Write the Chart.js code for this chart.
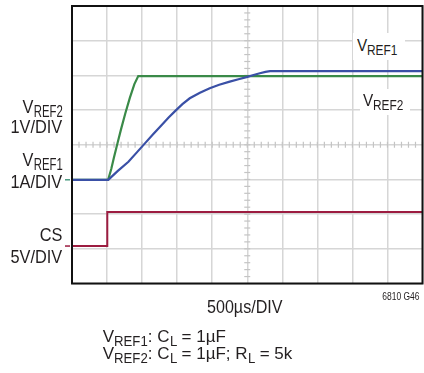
<!DOCTYPE html>
<html>
<head>
<meta charset="utf-8">
<script src="https://cdn.jsdelivr.net/npm/chart.js@4"></script>
<style>
  html, body { margin: 0; padding: 0; background: #fff; }
  #wrap { position: relative; width: 424px; height: 373px; overflow: hidden;
    font-family: "Liberation Sans Narrow", "Liberation Sans", Arial, sans-serif; color: #231f20; }
  #chart { position: absolute; left: 0; top: 0; }
  .lbl { position: absolute; white-space: nowrap; line-height: 20px; }
  .left { right: 362px; font-size: 19px; transform: scaleX(0.86); transform-origin: right center; }
  .left .s { font-size: 16.5px; }
  .rt { font-size: 17px; transform: scaleX(0.9); transform-origin: left center; }
  .rt .s { font-size: 15px; }
  .note { font-size: 17px; }
  .note .s { font-size: 15px; }
  .s { display: inline-block; vertical-align: -4px; line-height: 0; transform-origin: left center; }
  .wbox { position: absolute; background: #fff; }
</style>
</head>
<body>
<div id="wrap">
  <canvas id="chart" width="424" height="373"></canvas>

  <div class="lbl left" style="top:96.7px">V<span class="s">REF2</span></div>
  <div class="lbl left" style="top:117.4px">1V/DIV</div>
  <div class="lbl left" style="top:150.1px">V<span class="s">REF1</span></div>
  <div class="lbl left" style="top:171.7px">1A/DIV</div>
  <div class="lbl left" style="top:225.1px">CS</div>
  <div class="lbl left" style="top:246.7px">5V/DIV</div>

  <div class="wbox" style="left:353px; top:33px; width:52px; height:27px"></div>
  <div class="wbox" style="left:360px; top:89px; width:50px; height:26px"></div>
  <div class="lbl rt" style="left:357px; top:35.8px">V<span class="s">REF1</span></div>
  <div class="lbl rt" style="left:363px; top:91.4px">V<span class="s">REF2</span></div>

  <div class="lbl" style="left:206.7px; top:297.2px; font-size:17.5px; transform:scaleX(0.92); transform-origin:left center">500µs/DIV</div>
  <div class="lbl" style="right:4px; top:285.6px; font-size:10.6px; transform:scaleX(0.8); transform-origin:right center">6810 G46</div>
  <div class="lbl note" style="left:102.7px; top:327px">V<span class="s">REF1</span>: C<span class="s">L</span> = 1µF</div>
  <div class="lbl note" style="left:102.7px; top:344px">V<span class="s">REF2</span>: C<span class="s">L</span> = 1µF; R<span class="s">L</span> = 5k</div>
</div>

<script>
// time axis in divisions (500us/DIV), vertical in divisions
const vref2X = [0, 1.03, 1.12, 1.2, 1.3, 1.4, 1.52, 1.65, 1.78, 1.89, 10];
const vref2Y = [2.99, 2.99, 3.3, 3.65, 4.05, 4.45, 4.9, 5.35, 5.75, 5.98, 5.98];

const vref1X = [0, 1.035, 1.3, 1.61, 1.85, 2.08, 2.32, 2.56, 2.75, 2.94, 3.15, 3.36, 3.65, 3.93, 4.2, 4.5, 4.75, 4.98, 5.18, 5.36, 5.52, 5.65, 10];
const vref1Y = [2.99, 2.99, 3.24, 3.51, 3.78, 4.04, 4.31, 4.57, 4.78, 4.97, 5.17, 5.34, 5.5, 5.63, 5.73, 5.82, 5.89, 5.95, 6.01, 6.06, 6.1, 6.12, 6.12];

const csX = [0, 1.007, 1.007, 10];
const csY = [1.08, 1.08, 2.06, 2.06];

const xDivs = [0, 10];
const yDivs = [0, 8];

const GREEN = '#3a8a48';
const BLUE = '#3a50a6';
const RED = '#9c1c40';

// squeeze the subscripts (condensed look) without leaving a gap after them
document.querySelectorAll('.s').forEach((el) => {
  const k = el.closest('.left') ? 0.8 : 0.88;
  const w = el.getBoundingClientRect().width / (el.closest('.left') ? 0.86 : el.closest('.rt') ? 0.9 : 1);
  el.style.transform = 'scaleX(' + k + ')';
  el.style.marginRight = (-(1 - k) * w) + 'px';
});

const pts = (xs, ys) => xs.map((x, i) => ({ x: x, y: ys[i] }));

// small ticks along the center cross + channel markers + frame
const scopePlugin = {
  id: 'scope',
  beforeDatasetsDraw(chart) {
    const { ctx, scales: { x, y } } = chart;
    ctx.save();
    ctx.strokeStyle = '#c4c4c4';
    ctx.lineWidth = 1.2;
    const cx = x.getPixelForValue(5), cy = y.getPixelForValue(4);
    for (let v = 0; v <= 10; v += 0.2) {
      const px = x.getPixelForValue(v);
      ctx.beginPath(); ctx.moveTo(px, cy - 3); ctx.lineTo(px, cy + 3); ctx.stroke();
    }
    for (let v = 0; v <= 8; v += 0.2) {
      const py = y.getPixelForValue(v);
      ctx.beginPath(); ctx.moveTo(cx - 3, py); ctx.lineTo(cx + 3, py); ctx.stroke();
    }
    ctx.restore();
  },
  afterDraw(chart) {
    const { ctx, chartArea: a, scales: { y } } = chart;
    ctx.save();
    ctx.lineWidth = 1.5;
    ctx.strokeStyle = '#4a9a80';
    let py = y.getPixelForValue(vref2Y[0]);
    ctx.beginPath(); ctx.moveTo(a.left - 7, py); ctx.lineTo(a.left - 2, py); ctx.stroke();
    ctx.strokeStyle = RED;
    py = y.getPixelForValue(csY[0]);
    ctx.beginPath(); ctx.moveTo(a.left - 7, py); ctx.lineTo(a.left - 2, py); ctx.stroke();
    ctx.strokeStyle = '#111';
    ctx.lineWidth = 2;
    ctx.strokeRect(a.left, a.top, a.right - a.left, a.bottom - a.top);
    ctx.restore();
  }
};

const line = (data, color, w) => ({
  data: data, showLine: true, borderColor: color, borderWidth: w,
  pointRadius: 0, tension: 0, fill: false
});

new Chart(document.getElementById('chart').getContext('2d'), {
  type: 'scatter',
  data: {
    datasets: [
      line(pts(csX, csY), RED, 2),
      line(pts(vref1X, vref1Y), BLUE, 2.2),
      line(pts(vref2X, vref2Y), GREEN, 2.2)
    ]
  },
  options: {
    responsive: false,
    animation: false,
    events: [],
    layout: { padding: { left: 72, top: 6, right: 1.5, bottom: 89.5 } },
    plugins: { legend: { display: false }, tooltip: { enabled: false } },
    scales: {
      x: {
        type: 'linear', min: xDivs[0], max: xDivs[1],
        ticks: { display: false, stepSize: 1 },
        grid: { color: '#d6d6d6', lineWidth: 1.5, drawTicks: false },
        border: { display: false }
      },
      y: {
        type: 'linear', min: yDivs[0], max: yDivs[1],
        ticks: { display: false, stepSize: 1 },
        grid: { color: '#d6d6d6', lineWidth: 1.5, drawTicks: false },
        border: { display: false }
      }
    }
  },
  plugins: [scopePlugin]
});
</script>
</body>
</html>
